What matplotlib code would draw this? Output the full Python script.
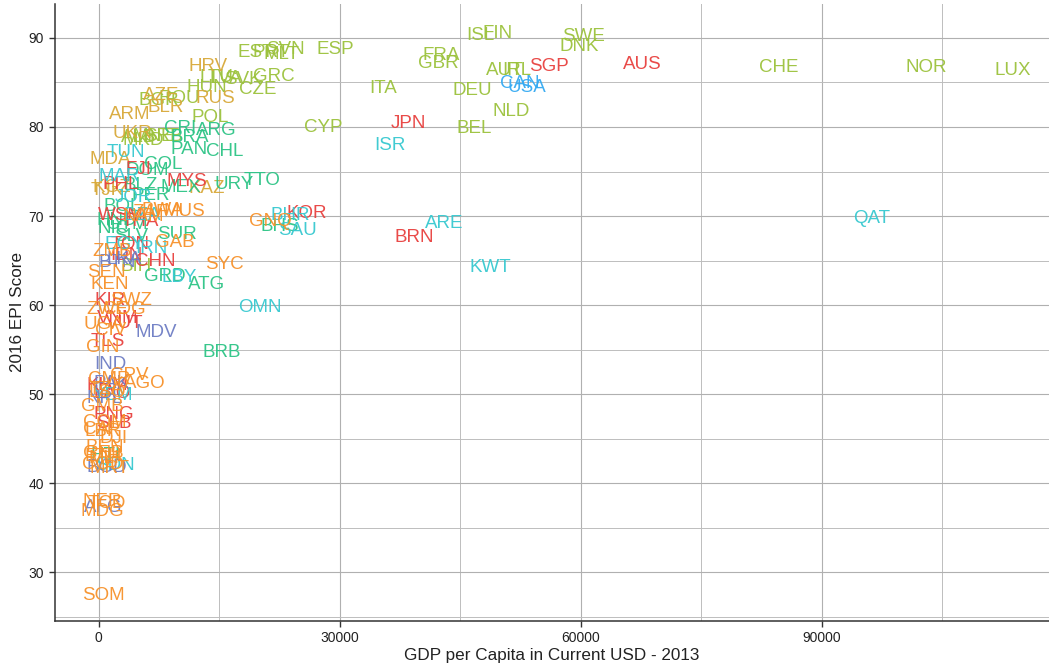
import matplotlib
matplotlib.use("Agg")
import matplotlib.pyplot as plt
from matplotlib.ticker import MultipleLocator, FixedLocator

# region palette
EAP, ECA, EUR, LAC = "#E8413F", "#D8A93A", "#9CC23D", "#2DC486"
MENA, NAM, SAS, SSA = "#38C9D0", "#35AAF2", "#6E7DC4", "#F7922B"

codes = [
    # Europe
    "LUX", "NOR", "CHE", "SWE", "DNK", "FIN", "ISL", "AUT", "IRL", "NLD",
    "BEL", "DEU", "FRA", "GBR", "ITA", "ESP", "CYP", "SVN", "PRT", "MLT",
    "EST", "GRC", "SVK", "CZE", "LVA", "LTU", "HUN", "POL", "ROU", "BGR",
    "MNE", "SRB", "ALB", "MKD", "BIH",
    # Eastern Europe & Central Asia
    "HRV", "RUS", "AZE", "BLR", "ARM", "UKR", "MDA", "KAZ", "KGZ", "TJK",
    # Latin America & Caribbean
    "ARG", "CHL", "PAN", "CRI", "BRA", "URY", "TTO", "DOM", "COL", "MEX",
    "PER", "BOL", "BLZ", "SLV", "SUR", "GRD", "ATG", "BRB", "HND", "GTM",
    "NIC", "HTI", "BHS",
    # Asia & Pacific
    "AUS", "SGP", "JPN", "KOR", "BRN", "MYS", "PHL", "FJI", "WSM", "THA",
    "TON", "CHN", "IDN", "KIR", "VNM", "VUT", "TLS", "PNG", "SLB", "KHM",
    "LAO",
    # Middle East & North Africa
    "QAT", "ARE", "KWT", "ISR", "SAU", "BHR", "OMN", "LBY", "TUN", "MAR",
    "JOR", "DZA", "EGY", "IRN", "YEM", "SDN",
    # North America
    "CAN", "USA",
    # South Asia
    "MDV", "IND", "PAK", "BTN", "LKA", "NPL", "BGD", "AFG",
    # Sub-Saharan Africa
    "SYC", "GAB", "MUS", "ZAF", "NAM", "BWA", "GNQ", "AGO", "CMR", "CPV",
    "SEN", "KEN", "ZMB", "SWZ", "ZWE", "COG", "UGA", "CIV", "GIN", "GMB",
    "LSO", "TZA", "COM", "CAF", "LBR", "DJI", "BEN", "ETH", "GNB", "COD",
    "MLI", "MRT", "NER", "TCD", "MDG", "SOM",
]

gdp = [
    113800, 103000, 84700, 60400, 59800, 49700, 47500, 50500, 52000, 51400,
    46700, 46500, 42600, 42300, 35400, 29500, 28000, 23300, 21500, 22800,
    19600, 21800, 18000, 19800, 15800, 14700, 13500, 13900, 10000, 7500,
    6800, 8100, 5000, 5500, 4700,
    13600, 14500, 7800, 8300, 3900, 4200, 1400, 13500, 1600, 1000,
    14600, 15700, 11200, 10100, 11300, 16900, 20300, 6000, 8000, 10200,
    6500, 2900, 5200, 4100, 9700, 8200, 13400, 15300, 2300, 3500,
    1800, 800, 22500,
    67700, 56000, 38600, 25900, 39300, 11000, 2700, 4900, 2700, 5200,
    3900, 7000, 3400, 1400, 2400, 3200, 1100, 1900, 1900, 1000,
    1650,
    96200, 43000, 48700, 36300, 24700, 23800, 20000, 10000, 3400, 2500,
    4300, 5400, 3200, 6500, 1700, 2000,
    52400, 53300,
    7200, 1500, 1600, 2300, 3200, 700, 1000, 600,
    15700, 9500, 10700, 6400, 5500, 7900, 21400, 5700, 1300, 3800,
    1000, 1400, 1700, 4000, 1100, 3200, 650, 1500, 500, 500,
    1100, 900, 800, 350, 450, 1800, 800, 500, 600, 450,
    700, 1300, 400, 1000, 450, 600,
]

epi = [
    86.6, 86.9, 86.9, 90.4, 89.2, 90.7, 90.5, 86.6, 86.6, 82.0,
    80.1, 84.3, 88.2, 87.4, 84.5, 88.9, 80.2, 88.9, 88.6, 88.4,
    88.6, 85.9, 85.6, 84.4, 85.7, 85.8, 84.6, 81.3, 83.4, 83.2,
    79.1, 79.2, 79.0, 78.7, 64.6,
    87.0, 83.4, 83.7, 82.4, 81.6, 79.5, 76.6, 73.3, 73.4, 73.1,
    79.8, 77.5, 77.7, 80.0, 79.0, 73.8, 74.2, 75.3, 76.0, 73.4,
    72.5, 71.3, 73.6, 67.9, 68.2, 63.4, 62.5, 54.9, 69.7, 69.3,
    68.8, 43.4, 69.1,
    87.2, 87.0, 80.6, 70.5, 67.8, 74.1, 73.8, 75.5, 70.3, 69.6,
    67.0, 65.1, 65.8, 60.7, 58.7, 58.2, 56.1, 48.0, 46.9, 51.2,
    50.3,
    69.9, 69.4, 64.4, 78.1, 68.6, 70.3, 60.0, 63.3, 77.4, 74.7,
    72.3, 70.3, 67.0, 66.6, 50.1, 42.2,
    85.1, 84.7,
    57.2, 53.6, 51.4, 65.0, 65.3, 49.8, 42.0, 37.5,
    64.8, 67.3, 70.7, 70.6, 70.2, 70.9, 69.6, 51.4, 51.9, 52.3,
    63.9, 62.5, 66.2, 60.8, 59.7, 59.7, 58.1, 57.4, 55.5, 48.8,
    50.4, 50.8, 47.1, 46.3, 46.0, 45.3, 44.3, 43.2, 43.6, 42.3,
    43.0, 41.9, 38.2, 38.0, 37.1, 27.6,
]

region = (
    [EUR] * 35 + [ECA] * 10 + [LAC] * 23 + [EAP] * 21 + [MENA] * 16
    + [NAM] * 2 + [SAS] * 8 + [SSA] * 36
)

LABEL_FONT = ["Liberation Sans", "DejaVu Sans"]
AXIS_FONT = ["Liberation Sans Narrow", "Liberation Sans", "DejaVu Sans"]

fig = plt.figure(figsize=(10.49, 6.68), dpi=100)
ax = fig.add_axes([0.052, 0.071, 0.948, 0.923])

for c, x, y, col in zip(codes, gdp, epi, region):
    ax.text(x, y, c, color=col, alpha=0.95, fontsize=13.5, family=LABEL_FONT,
            ha="center", va="center_baseline", zorder=3)

ax.set_xlim(-5500, 118300)
ax.set_ylim(24.6, 93.8)

ax.xaxis.set_major_locator(FixedLocator([0, 30000, 60000, 90000]))
ax.xaxis.set_minor_locator(FixedLocator([15000, 45000, 75000, 105000]))
ax.yaxis.set_major_locator(MultipleLocator(10))
ax.yaxis.set_minor_locator(FixedLocator([25, 35, 45, 55, 65, 75, 85]))

ax.grid(which="major", color="#B0B0B0", lw=0.8, zorder=0)
ax.grid(which="minor", color="#BDBDBD", lw=0.7, zorder=0)
ax.set_axisbelow(True)

for side in ("top", "right"):
    ax.spines[side].set_visible(False)
for side in ("left", "bottom"):
    ax.spines[side].set_color("#333333")
    ax.spines[side].set_linewidth(1.1)

ax.tick_params(which="major", direction="out", length=4, width=1.0,
               color="#333333", labelcolor="#222222", labelsize=10)
ax.tick_params(which="minor", length=0)
for lab in ax.get_xticklabels() + ax.get_yticklabels():
    lab.set_family(AXIS_FONT)

ax.set_xlabel("GDP per Capita in Current USD - 2013", fontsize=12.3,
              family=AXIS_FONT, color="#222222", va="center")
ax.set_ylabel("2016 EPI Score", fontsize=12.3, family=AXIS_FONT,
              color="#222222", va="center")
ax.xaxis.set_label_coords(0.5, -0.057)
ax.yaxis.set_label_coords(-0.037, 0.5)

fig.savefig("out.png", dpi=100)
